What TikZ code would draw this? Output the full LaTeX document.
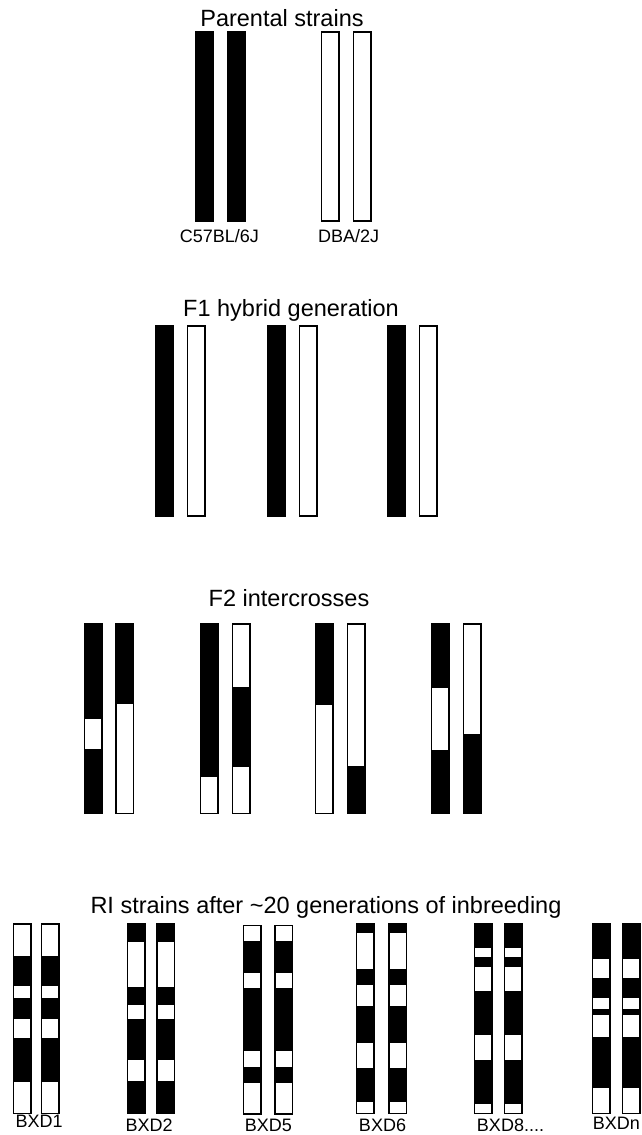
\documentclass[tikz,border=0pt]{standalone}
\usepackage{fontspec}
\setmainfont{Liberation Sans}
\usepackage{tikz}

% one chromosome: left x, top, bottom, black parts as top/bottom pairs
\newcommand{\chromo}[4]{%
  \foreach \a/\b in {#4} {\fill (#1,\a) rectangle (#1+17.5,\b);}
  \draw[chr] (#1,#2) rectangle (#1+17.5,#3);
}

\begin{document}
\begin{tikzpicture}[
    x=1pt, y=-1pt,
    chr/.style={draw=black, line width=1.5pt},
    ttl/.style={font=\fontsize{23.5}{28}\selectfont, anchor=base, inner sep=0pt},
    lbl/.style={font=\fontsize{18}{21}\selectfont, anchor=base, inner sep=0pt}
]
\useasboundingbox (0,0) rectangle (641,1135);

% parental strains
\node[ttl] (parental) at (282,27) {Parental strains};
\chromo{195.7}{32}{221}{32/221}
\chromo{227.3}{32}{221}{32/221}
\draw[chr] (321.7,32) rectangle (339.2,221);
\draw[chr] (353.5,32) rectangle (371,221);
\node[lbl] (bl6) at (219.3,242.3) {C57BL/6J};
\node[lbl] (dba) at (348.7,242.3) {DBA/2J};

% F1 generation
\node[ttl] (fone) at (291,316.7) {F1 hybrid generation};
\foreach \x in {155.7, 267.3, 387.7} {
  \chromo{\x}{326}{516}{326/516}
  \draw[chr] (\x+32,326) rectangle (\x+49.5,516);
}

% F2 intercrosses
\node[ttl] (ftwo) at (289,606.7) {F2 intercrosses};
\chromo{84.3}{624}{813.3}{624/719.3, 749.3/813.3}
\chromo{116}{624}{813.3}{624/704}
\chromo{200.7}{624}{813.3}{624/776.7}
\chromo{232.7}{624}{813.3}{687.3/767.3}
\chromo{315.7}{624}{813.3}{624/704.7}
\chromo{347.3}{624}{813.3}{765.7/813.3}
\chromo{431.3}{624}{813.3}{624/688.3, 750/813.3}
\chromo{463.3}{624}{813.3}{734/813.3}

% recombinant inbred strains
\node[ttl] (ri) at (326,913.3) {RI strains after \textasciitilde20 generations of inbreeding};
\foreach \x in {13.3, 41.7} {
  \chromo{\x}{924}{1113.3}{955.7/986, 997.7/1019, 1038.3/1082.3}
}
\foreach \x in {127.7, 157} {
  \chromo{\x}{924}{1113.3}{924/942.3, 986.7/1005.3, 1019.3/1060, 1081/1113.3}
}
\foreach \x in {243.3, 275} {
  \chromo{\x}{925.7}{1114}{941/973.3, 988.3/1051, 1066.7/1082.7}
}
\foreach \x in {356.7, 389} {
  \chromo{\x}{924}{1113.3}{924/932.7, 969.3/985, 1005.7/1042.7, 1068.3/1101.7}
}
\foreach \x in {474.3, 504.3} {
  \chromo{\x}{924}{1113.3}{924/948, 956.7/966.7, 990.7/1035, 1060/1104.3}
}
\foreach \x in {592.7, 622.7} {
  \chromo{\x}{924}{1113.3}{924/959, 977.7/998.3, 1009.3/1015, 1036.7/1088.3}
}

\node[lbl] (bxda) at (39.2,1127.7) {BXD1};
\node[lbl] (bxdb) at (149.2,1131.7) {BXD2};
\node[lbl] (bxde) at (268.3,1131.7) {BXD5};
\node[lbl] (bxdf) at (382.5,1131.7) {BXD6};
\node[lbl] (bxdh) at (510.5,1131.7) {BXD8....};
\node[lbl] (bxdn) at (616.4,1129) {BXDn};
\end{tikzpicture}
\end{document}
